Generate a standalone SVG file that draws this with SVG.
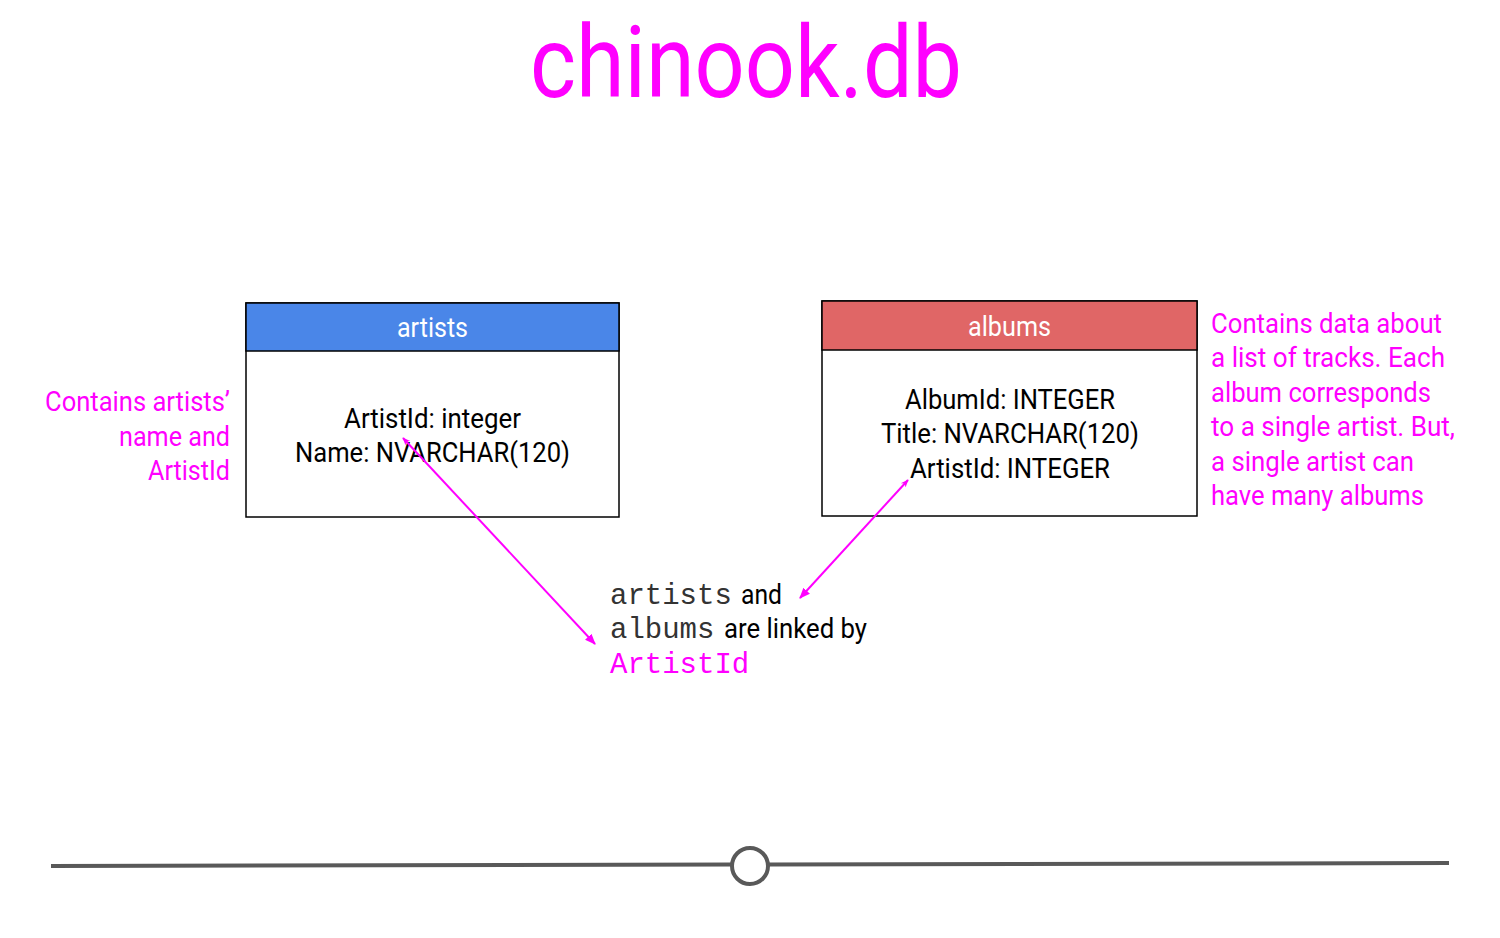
<svg xmlns="http://www.w3.org/2000/svg" width="1500" height="938" viewBox="0 0 1500 938">
<defs>
<style>
.r{font-family:Roboto,"Liberation Sans",sans-serif;font-size:28px}
.m{font-family:"Liberation Mono",monospace;font-size:29px}
.mag{fill:#ff00ff}
.blk{fill:#000}
.box{fill:#fff;stroke:#000;stroke-width:1.5}
.conn{stroke:#ff00ff;stroke-width:2;fill:none}
</style>
<marker id="ah" viewBox="0 0 10 10" refX="9" refY="5" markerWidth="5.5" markerHeight="5.5" orient="auto-start-reverse" markerUnits="strokeWidth">
<path d="M0,1 L10,5 L0,9 z" fill="#ff00ff"/>
</marker>
<marker id="ahs" viewBox="0 0 10 10" refX="9" refY="5" markerWidth="4" markerHeight="4" orient="auto-start-reverse" markerUnits="strokeWidth">
<path d="M0,1 L10,5 L0,9 L3,5 z" fill="#ff00ff"/>
</marker>
</defs>
<rect width="1500" height="938" fill="#fff"/>
<text id="title" x="746" y="97" text-anchor="middle" class="mag" font-family="Roboto,'Liberation Sans',sans-serif" font-size="100" textLength="432" lengthAdjust="spacingAndGlyphs">chinook.db</text>

<g id="artists">
<rect class="box" x="246" y="303" width="373" height="214"/>
<rect x="246" y="303" width="373" height="48" fill="#4a86e8" stroke="#000" stroke-width="1.5"/>
<text class="r" x="432.5" y="337" text-anchor="middle" fill="#fff" textLength="71" lengthAdjust="spacingAndGlyphs">artists</text>
<text class="r blk" x="432.5" y="428" text-anchor="middle" textLength="177" lengthAdjust="spacingAndGlyphs">ArtistId: integer</text>
<text class="r blk" x="432.5" y="462" text-anchor="middle" textLength="275" lengthAdjust="spacingAndGlyphs">Name: NVARCHAR(120)</text>
</g>

<g id="albums">
<rect class="box" x="822" y="301" width="375" height="215"/>
<rect x="822" y="301" width="375" height="49" fill="#e06666" stroke="#000" stroke-width="1.5"/>
<text class="r" x="1009.5" y="336" text-anchor="middle" fill="#fff" textLength="83" lengthAdjust="spacingAndGlyphs">albums</text>
<text class="r blk" x="1010" y="409" text-anchor="middle" textLength="210" lengthAdjust="spacingAndGlyphs">AlbumId: INTEGER</text>
<text class="r blk" x="1010" y="443" text-anchor="middle" textLength="258" lengthAdjust="spacingAndGlyphs">Title: NVARCHAR(120)</text>
<text class="r blk" x="1010" y="478" text-anchor="middle" textLength="200" lengthAdjust="spacingAndGlyphs">ArtistId: INTEGER</text>
</g>

<g id="artists-note" class="r mag" text-anchor="end">
<text x="230" y="411" textLength="185" lengthAdjust="spacingAndGlyphs">Contains artists’</text>
<text x="230" y="446" textLength="111" lengthAdjust="spacingAndGlyphs">name and</text>
<text x="230" y="480" textLength="82" lengthAdjust="spacingAndGlyphs">ArtistId</text>
</g>

<g id="albums-note" class="r mag">
<text x="1211" y="333" textLength="231" lengthAdjust="spacingAndGlyphs">Contains data about</text>
<text x="1211" y="367" textLength="234" lengthAdjust="spacingAndGlyphs">a list of tracks. Each</text>
<text x="1211" y="402" textLength="220" lengthAdjust="spacingAndGlyphs">album corresponds</text>
<text x="1211" y="436" textLength="244" lengthAdjust="spacingAndGlyphs">to a single artist. But,</text>
<text x="1211" y="471" textLength="203" lengthAdjust="spacingAndGlyphs">a single artist can</text>
<text x="1211" y="505" textLength="213" lengthAdjust="spacingAndGlyphs">have many albums</text>
</g>

<g id="link-note">
<text class="m" x="610" y="604" fill="#333">artists</text>
<text class="r blk" x="741" y="604" textLength="41" lengthAdjust="spacingAndGlyphs">and</text>
<text class="m" x="610" y="638" fill="#333">albums</text>
<text class="r blk" x="724" y="638" textLength="143" lengthAdjust="spacingAndGlyphs">are linked by</text>
<text class="m mag" x="610" y="673">ArtistId</text>
</g>

<g id="connectors">
<line class="conn" x1="403" y1="438" x2="595" y2="644" marker-start="url(#ahs)" marker-end="url(#ah)"/>
<line class="conn" x1="908" y1="480" x2="800" y2="598" marker-start="url(#ahs)" marker-end="url(#ah)"/>
</g>

<g id="slider">
<line x1="51" y1="866" x2="731" y2="864.5" stroke="#595959" stroke-width="4"/>
<line x1="769" y1="864.5" x2="1449" y2="863" stroke="#595959" stroke-width="4"/>
<circle cx="750" cy="866" r="18" fill="#fff" stroke="#595959" stroke-width="4"/>
</g>
</svg>
